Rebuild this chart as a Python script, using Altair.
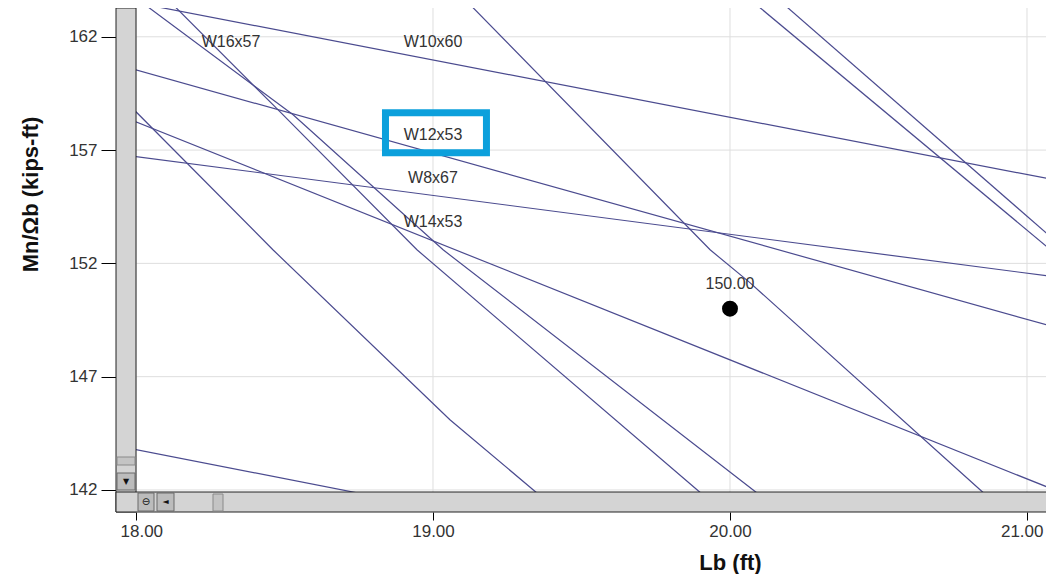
import altair as alt
import pandas as pd

# ---- data (Lb in ft, Mn/Ωb in kip-ft) ----
w10x60_lb = [17.95, 21.15]
w10x60_mn = [163.63, 155.54]
w12x53_lb = [17.95, 21.15]
w12x53_mn = [160.72, 148.98]
w8x67_lb = [17.95, 21.15]
w8x67_mn = [156.80, 151.31]
w14x53_lb = [17.95, 21.15]
w14x53_mn = [158.51, 141.70]
w16x57_lb = [18.10, 18.471, 18.946, 19.889, 19.95]
w16x57_mn = [163.74, 158.87, 152.60, 142.01, 141.32]
line_b_lb = [18.0, 18.529, 19.034, 20.077, 20.15]
line_b_mn = [163.71, 158.56, 152.60, 142.01, 141.27]
line_c_lb = [17.95, 18.0, 18.461, 19.057, 19.337, 19.40]
line_c_mn = [159.35, 158.69, 152.60, 145.10, 142.01, 141.32]
line_d_lb = [17.95, 18.8]
line_d_mn = [143.91, 141.73]
line_e_lb = [19.10, 19.933, 20.067, 20.842, 20.90]
line_e_mn = [163.75, 152.60, 151.15, 142.01, 141.33]
line_f1_lb = [20.05, 21.15]
line_f1_mn = [163.84, 151.83]
line_f2_lb = [20.15, 21.15]
line_f2_mn = [163.79, 152.37]

label_text = ["W16x57", "W10x60", "W12x53", "W8x67", "W14x53"]
label_lb = [18.32, 19.0, 19.0, 19.0, 19.0]
label_mn = [161.78, 161.78, 157.68, 155.78, 153.84]

design_lb = [20.0]
design_mn = [150.0]
design_text = ["150.00"]

box_lb = [18.84, 19.18]
box_mn = [156.88, 158.65]

x_ticks = [18, 19, 20, 21]
y_ticks = [142, 147, 152, 157, 162]
x_domain = [18.0, 21.064]
y_domain = [141.91, 163.27]

# ---- tables ----
series = {
    "W10x60": (w10x60_lb, w10x60_mn),
    "W12x53": (w12x53_lb, w12x53_mn),
    "W8x67": (w8x67_lb, w8x67_mn),
    "W14x53": (w14x53_lb, w14x53_mn),
    "W16x57": (w16x57_lb, w16x57_mn),
    "b": (line_b_lb, line_b_mn),
    "c": (line_c_lb, line_c_mn),
    "d": (line_d_lb, line_d_mn),
    "e": (line_e_lb, line_e_mn),
    "f1": (line_f1_lb, line_f1_mn),
    "f2": (line_f2_lb, line_f2_mn),
}
rows = []
for name, (lbs, mns) in series.items():
    for i, (a, b) in enumerate(zip(lbs, mns)):
        rows.append({"series": name, "lb": a, "mn": b, "i": i})
lines_df = pd.DataFrame(rows)
labels_df = pd.DataFrame({"lb": label_lb, "mn": label_mn, "text": label_text})
point_df = pd.DataFrame({"lb": design_lb, "mn": design_mn, "text": design_text})
box_df = pd.DataFrame({"lb": [box_lb[0]], "lb2": [box_lb[1]], "mn": [box_mn[0]], "mn2": [box_mn[1]]})
xgrid_df = pd.DataFrame({"lb": x_ticks})
ygrid_df = pd.DataFrame({"mn": y_ticks})
deco_df = pd.DataFrame({"k": [0]})

W = 910
H = 484
FONT = "Liberation Sans"
xscale = alt.Scale(domain=x_domain, nice=False, zero=False)
yscale = alt.Scale(domain=y_domain, nice=False, zero=False)
xaxis = alt.Axis(values=x_ticks, format=".2f", offset=20, domain=False, grid=False,
                 tickColor="black", tickSize=8, labelPadding=3, labelFontSize=17,
                 labelColor="#333333", labelFont=FONT, labelFlush=25, labelFlushOffset=16,
                 labelOverlap=False, labelBound=False,
                 title="Lb (ft)", titleFont=FONT, titleFontSize=22, titleFontWeight="bold",
                 titleColor="#111111", titleX=594, titleY=50, titleBaseline="middle")
yaxis = alt.Axis(values=y_ticks, format="d", offset=20, domain=False, grid=False,
                 tickColor="black", tickSize=15, labelPadding=4, labelFontSize=17,
                 labelColor="#333333", labelFont=FONT, labelFlush=False, labelOverlap=False,
                 title="Mn/Ωb (kips-ft)", titleFont=FONT, titleFontSize=22, titleFontWeight="bold",
                 titleColor="#111111", titleX=-86, titleY=186, titleBaseline="middle")


def X(f="lb"):
    return alt.X(f"{f}:Q", scale=xscale, axis=xaxis)


def Y(f="mn"):
    return alt.Y(f"{f}:Q", scale=yscale, axis=yaxis)


xgrid = alt.Chart(xgrid_df).mark_rule(color="#dedede", strokeWidth=1).encode(x=X())
ygrid = alt.Chart(ygrid_df).mark_rule(color="#dedede", strokeWidth=1).encode(y=Y())

lines = alt.Chart(lines_df).mark_line(clip=True, color="#4b4b8f", strokeWidth=1.2).encode(
    x=X(), y=Y(), detail="series:N", order="i:Q")

box = alt.Chart(box_df).mark_rect(fill=None, stroke="#0ca0dc", strokeWidth=7).encode(
    x=X(), x2="lb2:Q", y=Y(), y2="mn2:Q")

labels = alt.Chart(labels_df).mark_text(font=FONT, fontSize=16, color="#333333").encode(
    x=X(), y=Y(), text="text:N")

point = alt.Chart(point_df).mark_circle(size=254, color="black", opacity=1).encode(x=X(), y=Y())
point_label = alt.Chart(point_df).mark_text(font=FONT, fontSize=16, color="#333333", dy=-25).encode(
    x=X(), y=Y(), text="text:N")

# scrollbar chrome around the plot area
base = alt.Chart(deco_df)
vbar = base.mark_rect(fill="#d4d4d4", stroke="#222222", strokeWidth=1).encode(
    x=alt.value(-20), x2=alt.value(0), y=alt.value(0), y2=alt.value(504))
hbar = base.mark_rect(fill="#d4d4d4", stroke="#222222", strokeWidth=1).encode(
    x=alt.value(-20), x2=alt.value(W + 2), y=alt.value(484), y2=alt.value(504))
vthumb = base.mark_rect(fill="#c4c4c4", stroke="#8a8a8a", strokeWidth=1).encode(
    x=alt.value(-19), x2=alt.value(-1), y=alt.value(449), y2=alt.value(457))
vbtn = base.mark_rect(fill="#bcbcbc", stroke="#6a6a6a", strokeWidth=1).encode(
    x=alt.value(-19), x2=alt.value(-1), y=alt.value(465), y2=alt.value(482))
hbtn1 = base.mark_rect(fill="#bcbcbc", stroke="#6a6a6a", strokeWidth=1).encode(
    x=alt.value(2), x2=alt.value(18), y=alt.value(485), y2=alt.value(503))
hbtn2 = base.mark_rect(fill="#bcbcbc", stroke="#6a6a6a", strokeWidth=1).encode(
    x=alt.value(21), x2=alt.value(38), y=alt.value(485), y2=alt.value(503))
hthumb = base.mark_rect(fill="#c4c4c4", stroke="#8a8a8a", strokeWidth=1).encode(
    x=alt.value(77), x2=alt.value(87), y=alt.value(486), y2=alt.value(503))
vbtn_t = base.mark_text(text="▼", font="DejaVu Sans", fontSize=8, color="#111111").encode(
    x=alt.value(-10), y=alt.value(474))
hbtn1_t = base.mark_text(text="⊖", font="DejaVu Sans", fontSize=10, color="#111111").encode(
    x=alt.value(10), y=alt.value(494))
hbtn2_t = base.mark_text(text="◄", font="DejaVu Sans", fontSize=8, color="#111111").encode(
    x=alt.value(29.5), y=alt.value(494))

chart = alt.layer(
    xgrid, ygrid, lines, box, labels, point, point_label,
    vbar, hbar, vthumb, vbtn, hbtn1, hbtn2, hthumb, vbtn_t, hbtn1_t, hbtn2_t,
).properties(
    width=W, height=H,
    autosize=alt.AutoSizeParams(type="none"),
    padding={"left": 128, "top": 0, "right": 0, "bottom": 82},
    background="white",
).configure_view(strokeWidth=0)

chart.save("out.html", embed_options={"renderer": "svg", "actions": False})
